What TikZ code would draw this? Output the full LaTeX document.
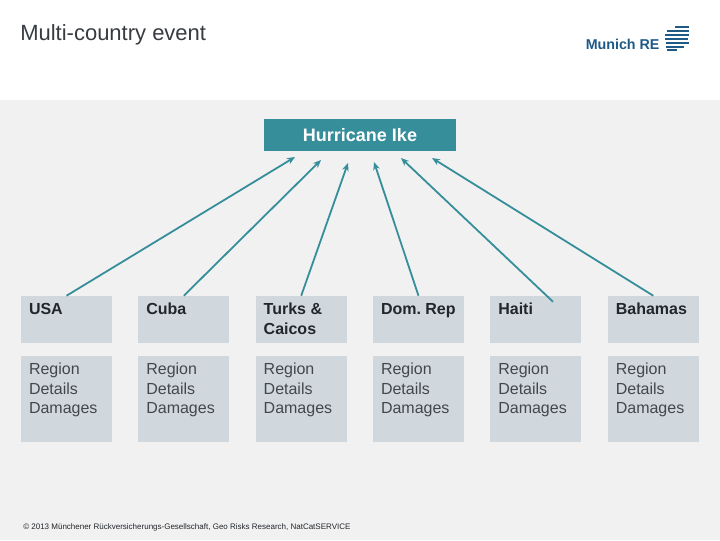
\documentclass[tikz,border=0pt]{standalone}
\usepackage{fontspec}
\setmainfont{Liberation Sans}
\usepackage{tikz}
\usetikzlibrary{positioning,arrows.meta}
\definecolor{bandgrey}{HTML}{F1F1F1}
\definecolor{teallink}{HTML}{368E9B}
\definecolor{boxgrey}{HTML}{D0D8DE}
\definecolor{inkgrey}{HTML}{22262B}
\definecolor{logoblue}{HTML}{1F5A87}
\frenchspacing
\tikzset{
  headbox/.style={fill=boxgrey,minimum width=68.25pt,minimum height=35.25pt,inner sep=0pt},
  detailbox/.style={fill=boxgrey,minimum width=68.25pt,minimum height=64.5pt,inner sep=0pt},
  headtext/.style={anchor=north west,inner sep=0pt,align=left,font=\fontsize{12}{14.6}\selectfont\bfseries,text=inkgrey},
  detailtext/.style={anchor=north west,inner sep=0pt,align=left,font=\fontsize{12}{14.6}\selectfont,text=inkgrey!85},
  link/.style={->,draw=teallink,line width=1.35pt}
}
\begin{document}
\begin{tikzpicture}[x=0.75pt,y=-0.75pt,>={Stealth[length=6pt,width=5pt]}]
\useasboundingbox (0,0) rectangle (720,540);
\fill[white] (0,0) rectangle (720,100);
\fill[bandgrey] (0,100) rectangle (720,540);
\node[anchor=base west,inner sep=0pt,font=\fontsize{16.5}{19}\selectfont,text=inkgrey!90] (heading) at (20,40) {Multi-country event};
% logo
\node[anchor=base west,inner sep=0pt,font=\fontsize{10.7}{13}\selectfont\bfseries,text=logoblue] (logotext) at (585.5,49) {Munich RE};
\foreach \yy/\xa/\xb in {26/675/689,30/667/689,34/665/689,38/665/688,42/666/689,46/666/684,49/667/677}
  \fill[logoblue] (\xa,\yy) rectangle (\xb,\yy+1.8);
\node[fill=teallink,minimum width=144pt,minimum height=24pt,inner sep=0pt,text=white,font=\fontsize{13.5}{16}\selectfont\bfseries] (ike) at (360,135) {\raisebox{0.7pt}{Hurricane Ike}};
% country columns
\foreach \name/\xx/\txt in {usa/66.5/USA,cuba/183.8/Cuba,turks/301.2/{Turks \&\\Caicos},dom/418.5/Dom. Rep,haiti/535.8/Haiti,bahamas/653.3/Bahamas}{
  \node[headbox] (\name) at (\xx,319.5) {};
  \node[detailbox] (\name det) at (\xx,399) {};
  \node[headtext] (\name txt) at ([xshift=6pt,yshift=-5.3pt]\name.north west) {\txt};
  \node[detailtext] (\name dettxt) at ([xshift=6pt,yshift=-5.3pt]\name det.north west) {Region\\Details\\Damages};
}
\coordinate (tipusa) at (295,157);
\coordinate (tipcuba) at (321,160);
\coordinate (tipturks) at (348,163);
\coordinate (tipdom) at (374,162);
\coordinate (tiphaiti) at (401,158);
\coordinate (tipbahamas) at (432,158);
\coordinate (starthaiti) at ([xshift=12.9pt,yshift=-4.5pt]haiti.north);
\draw[link] (usa.north) -- (tipusa);
\draw[link] (cuba.north) -- (tipcuba);
\draw[link] (turks.north) -- (tipturks);
\draw[link] (dom.north) -- (tipdom);
\draw[link] (starthaiti) -- (tiphaiti);
\draw[link] (bahamas.north) -- (tipbahamas);
\node[anchor=base west,inner sep=0pt,font=\fontsize{6}{8}\selectfont,text=inkgrey] (credit) at (23,529) {© 2013 Münchener Rückversicherungs-Gesellschaft, Geo Risks Research, NatCatSERVICE};
\end{tikzpicture}
\end{document}
